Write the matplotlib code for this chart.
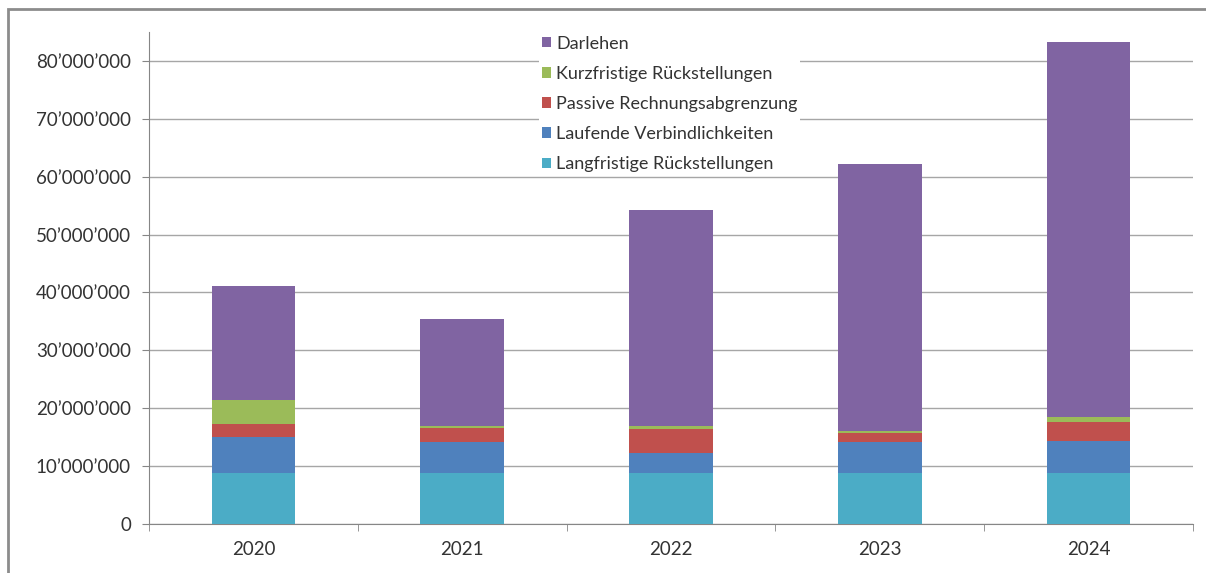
import matplotlib.pyplot as plt
from matplotlib.patches import Rectangle
from matplotlib.ticker import FuncFormatter
import numpy as np

plt.rcParams['font.family'] = ['Lato', 'DejaVu Sans']

years = ['2020', '2021', '2022', '2023', '2024']
langfristige = [8.8e6, 8.8e6, 8.8e6, 8.8e6, 8.8e6]
laufende = [6.2e6, 5.3e6, 3.4e6, 5.3e6, 5.5e6]
passive = [2.3e6, 2.4e6, 4.2e6, 1.6e6, 3.4e6]
kurzfristige = [4.2e6, 0.5e6, 0.5e6, 0.4e6, 0.8e6]
darlehen = [19.6e6, 18.4e6, 37.3e6, 46.1e6, 64.8e6]

series = [
    ('Langfristige Rückstellungen', langfristige, '#4BACC6'),
    ('Laufende Verbindlichkeiten', laufende, '#4F81BD'),
    ('Passive Rechnungsabgrenzung', passive, '#C0504D'),
    ('Kurzfristige Rückstellungen', kurzfristige, '#9BBB59'),
    ('Darlehen', darlehen, '#8064A2'),
]

fig = plt.figure(figsize=(12.06, 5.73), dpi=100)
ax = fig.add_axes([149/1206, 1 - 524/573, 1044/1206, 492/573])

x = np.arange(len(years))
bottom = np.zeros(len(years))
handles = []
for name, vals, col in series:
    b = ax.bar(x, vals, 0.4, bottom=bottom, color=col, label=name, zorder=3)
    handles.append(b)
    bottom += np.array(vals)

ax.set_xlim(-0.5, 4.5)
ax.set_ylim(0, 85e6)
ax.set_yticks(np.arange(0, 80e6 + 1, 10e6))
ax.yaxis.set_major_formatter(FuncFormatter(
    lambda v, p: '{:,.0f}'.format(v).replace(',', '\u2019')))
ax.grid(axis='y', color='#a6a6a6', linewidth=1, zorder=0)

ax.set_xticks(x)
ax.set_xticklabels(years)
ax.set_xticks(np.arange(-0.5, 4.6, 1), minor=True)
ax.tick_params(axis='x', which='major', length=0, pad=12, labelsize=13.5, colors='#333333')
ax.tick_params(axis='x', which='minor', length=5, color='#868686', direction='out')
ax.tick_params(axis='y', length=5, color='#868686', labelsize=13.5, colors='#333333', pad=8)
for s in ['top', 'right']:
    ax.spines[s].set_visible(False)
for s in ['left', 'bottom']:
    ax.spines[s].set_color('#868686')

leg = ax.legend(handles[::-1], [s[0] for s in series][::-1],
                loc='upper left', bbox_to_anchor=(530/1206, 1 - 24/573),
                bbox_transform=fig.transFigure, frameon=True, fancybox=False,
                edgecolor='none', framealpha=1, fontsize=13,
                handlelength=0.5, handleheight=0.5, handletextpad=0.3,
                labelspacing=0.78, borderpad=0.15)
for t in leg.get_texts():
    t.set_color('#333333')
leg.set_zorder(5)

# outer frame (left and top edges visible)
fig.add_artist(Rectangle((8/1206, -0.2), 1.5, 1.2 - 9/573,
                         transform=fig.transFigure, fill=False,
                         edgecolor='#8c8c8c', linewidth=2))

fig.savefig('out.png', dpi=100)
